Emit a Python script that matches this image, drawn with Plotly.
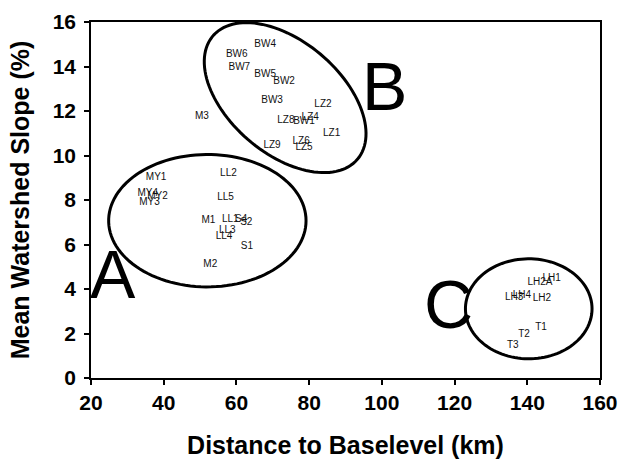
import numpy as np
import plotly.graph_objects as go

# ---- data ----
labels = ["BW4", "BW6", "BW7", "BW5", "BW2", "BW3", "LZ2", "M3", "LZ8", "BW1", "LZ4",
          "LZ1", "LZ9", "LZ6", "LZ5",
          "MY1", "MY4", "MY2", "MY3", "LL2", "LL5", "M1", "LL1", "S4", "S2", "LL3",
          "LL4", "S1", "M2",
          "LH1", "LH2A", "LH3", "LH4", "LH2", "T1", "T2", "T3"]
distance = [67.9, 60.1, 60.8, 67.9, 73.1, 69.8, 83.8, 50.5, 73.6, 78.6, 80.3,
            86.2, 69.8, 77.8, 78.6,
            37.9, 35.6, 38.3, 36.1, 57.8, 57.0, 52.3, 58.3, 61.3, 62.7, 57.5,
            56.6, 62.9, 52.8,
            146.7, 143.5, 136.4, 138.5, 144.0, 143.8, 139.1, 136.0]
slope = [15.01, 14.53, 13.96, 13.66, 13.33, 12.46, 12.28, 11.76, 11.58, 11.53, 11.69,
         11.01, 10.45, 10.63, 10.38,
         9.03, 8.31, 8.16, 7.87, 9.17, 8.13, 7.08, 7.11, 7.11, 7.01, 6.62,
         6.36, 5.89, 5.09,
         4.45, 4.27, 3.64, 3.70, 3.56, 2.25, 1.95, 1.45]

x_ticks = [20, 40, 60, 80, 100, 120, 140, 160]
y_ticks = [0, 2, 4, 6, 8, 10, 12, 14, 16]

group_names = ["A", "B", "C"]
group_cx = [52.0, 73.4, 140.4]
group_cy = [7.07, 12.6, 3.11]
group_label_x = [26.1, 100.7, 118.3]
group_label_y = [4.54, 13.0, 3.2]

# ---- layout geometry ----
W, H = 620, 460
ML, MR, MT, MB = 91, 20, 22, 82
XR = (20, 160)
YR = (0, 16)
px_x = (W - ML - MR) / (XR[1] - XR[0])
px_y = (H - MT - MB) / (YR[1] - YR[0])

# ellipse sizes in screen pixels: (semi-axis a, semi-axis b, tilt deg, clockwise on screen)
ell_a = [98.7, 95.0, 63.3]
ell_b = [66.2, 56.0, 50.0]
ell_t = [0.0, 40.5, 0.0]


def ellipse_path(cx, cy, a, b, tdeg, n=120):
    t = np.linspace(0, 2 * np.pi, n)
    th = np.radians(tdeg)
    dx = a * np.cos(t) * np.cos(th) - b * np.sin(t) * np.sin(th)
    dy = a * np.cos(t) * np.sin(th) + b * np.sin(t) * np.cos(th)  # screen, down positive
    xs = cx + dx / px_x
    ys = cy - dy / px_y
    pts = [f"{x:.4f},{y:.4f}" for x, y in zip(xs, ys)]
    return "M " + " L ".join(pts) + " Z"


fig = go.Figure()
fig.add_trace(go.Scatter(
    x=distance, y=slope, mode="text", text=labels,
    textposition="middle center",
    textfont=dict(family="Liberation Sans, Arial", size=10, color="#111"),
    hoverinfo="skip", showlegend=False, cliponaxis=False,
))

shapes = []
for cx, cy, a, b, t in zip(group_cx, group_cy, ell_a, ell_b, ell_t):
    shapes.append(dict(type="path", xref="x", yref="y", path=ellipse_path(cx, cy, a, b, t),
                       line=dict(color="black", width=3), fillcolor="rgba(0,0,0,0)",
                       layer="above"))

annotations = []
for name, lx, ly in zip(group_names, group_label_x, group_label_y):
    annotations.append(dict(x=lx, y=ly, xref="x", yref="y", text=name, showarrow=False,
                            font=dict(family="Liberation Sans, Arial", size=68, color="black"),
                            xanchor="center", yanchor="middle", yshift=3))

axis_font = dict(family="Liberation Sans, Arial", size=21, color="black")
title_font = dict(family="Liberation Sans, Arial", size=25, color="black")

fig.update_layout(
    width=W, height=H,
    margin=dict(l=ML, r=MR, t=MT, b=MB, autoexpand=False),
    paper_bgcolor="white", plot_bgcolor="white",
    shapes=shapes, annotations=annotations,
    xaxis=dict(range=list(XR), tickvals=x_ticks, ticktext=[f"<b>{v}</b>" for v in x_ticks],
               showgrid=False, zeroline=False, showline=True, linecolor="black", linewidth=1.5,
               mirror=True, ticks="outside", ticklen=5, tickwidth=1.5, tickcolor="black",
               tickfont=axis_font,
               title=dict(text="<b>Distance to Baselevel (km)</b>", font=title_font, standoff=24)),
    yaxis=dict(range=list(YR), tickvals=y_ticks, ticktext=[f"<b>{v}</b>" for v in y_ticks],
               showgrid=False, zeroline=False, showline=True, linecolor="black", linewidth=1.5,
               mirror=True, ticks="outside", ticklen=5, tickwidth=1.5, tickcolor="black",
               tickfont=axis_font, ticklabelstandoff=4,
               title=dict(text="<b>Mean Watershed Slope (%)</b>", font=title_font, standoff=16)),
)

fig.write_html(
    "out.html",
    config={"displayModeBar": False},
    post_script="document.body.style.margin='0';document.body.style.padding='0';"
                "document.body.style.overflow='hidden';",
)
